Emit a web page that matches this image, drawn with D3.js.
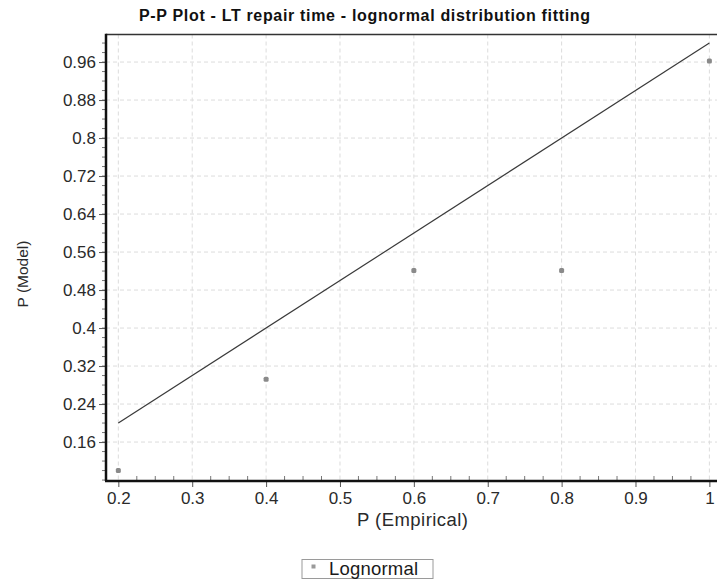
<!DOCTYPE html>
<html>
<head>
<meta charset="utf-8">
<script src="https://cdn.jsdelivr.net/npm/d3@7"></script>
<style>
  html, body { margin: 0; padding: 0; background: #ffffff; }
  svg { display: block; }
  text { font-family: "Liberation Sans", Arial, sans-serif; }
</style>
</head>
<body>
<svg id="chart" width="717" height="580"></svg>
<script>
// ---- data ----
const title = "P-P Plot - LT repair time - lognormal distribution fitting";
const xLabel = "P (Empirical)";
const yLabel = "P (Model)";
const seriesName = "Lognormal";
const empirical = [0.2, 0.4, 0.6, 0.8, 1.0];
const model = [0.100, 0.292, 0.521, 0.521, 0.962];
const refLineX = [0.2, 1.0];
const refLineY = [0.2, 1.0];
const xTicks = [0.2, 0.3, 0.4, 0.5, 0.6, 0.7, 0.8, 0.9, 1.0];
const xTickLabels = ["0.2", "0.3", "0.4", "0.5", "0.6", "0.7", "0.8", "0.9", "1"];
const yTicks = [0.16, 0.24, 0.32, 0.40, 0.48, 0.56, 0.64, 0.72, 0.80, 0.88, 0.96];
const yTickLabels = ["0.16", "0.24", "0.32", "0.4", "0.48", "0.56", "0.64", "0.72", "0.8", "0.88", "0.96"];
const xDomain = [0.1833, 1.016];
const yDomain = [0.078, 1.018];

// ---- layout ----
const L = 106, T = 34.5, B = 481, R = 721.2;
const svg = d3.select("#chart");
const x = d3.scaleLinear().domain(xDomain).range([L, R]);
const y = d3.scaleLinear().domain(yDomain).range([B, T]);

// plot background
svg.append("rect").attr("x", L).attr("y", T).attr("width", R - L).attr("height", B - T).attr("fill", "#ffffff");

// grid lines
const grid = svg.append("g");
grid.selectAll("line.gx").data(xTicks).enter().append("line")
  .attr("x1", d => x(d)).attr("x2", d => x(d)).attr("y1", T).attr("y2", B)
  .attr("stroke", "#dcdcdc").attr("stroke-width", 1).attr("stroke-dasharray", "4,3");
grid.selectAll("line.gy").data(yTicks).enter().append("line")
  .attr("x1", L).attr("x2", R).attr("y1", d => y(d)).attr("y2", d => y(d))
  .attr("stroke", "#dcdcdc").attr("stroke-width", 1).attr("stroke-dasharray", "4,3");

// minor ticks
const xMinor = d3.range(0, 33).map(i => 0.2 + i * 0.025).filter(v => v <= 1.016 && Math.round(v * 1000) % 100 !== 0);
const yMinor = d3.range(0, 48).map(i => 0.08 + i * 0.02).filter(v => v <= 1.018 && v >= 0.078);
svg.append("g").selectAll("line").data(xMinor).enter().append("line")
  .attr("x1", d => x(d)).attr("x2", d => x(d)).attr("y1", B - 5).attr("y2", B)
  .attr("stroke", "#777").attr("stroke-width", 1);
svg.append("g").selectAll("line").data(yMinor).enter().append("line")
  .attr("x1", L - 4).attr("x2", L).attr("y1", d => y(d)).attr("y2", d => y(d))
  .attr("stroke", "#777").attr("stroke-width", 1);

// axes
const xAxis = d3.axisBottom(x).tickValues(xTicks).tickFormat((d, i) => xTickLabels[i]).tickSize(6).tickPadding(5);
const yAxis = d3.axisLeft(y).tickValues(yTicks).tickFormat((d, i) => yTickLabels[i]).tickSize(7).tickPadding(3);
const gx = svg.append("g").attr("transform", `translate(0,${B})`).call(xAxis);
const gy = svg.append("g").attr("transform", `translate(${L},0)`).call(yAxis);
[gx, gy].forEach(g => {
  g.select(".domain").remove();
  g.selectAll(".tick line").attr("stroke", "#555").attr("stroke-width", 1);
  g.selectAll(".tick text").attr("fill", "#2a2a2a")
    .style("font-family", '"Liberation Sans", Arial, sans-serif').style("font-size", "17px");
});
gx.selectAll(".tick text").attr("dy", "0.71em");

// axis lines / border
svg.append("line").attr("x1", L).attr("x2", 717).attr("y1", T).attr("y2", T)
  .attr("stroke", "#333").attr("stroke-width", 1.5);
svg.append("line").attr("x1", L - 1).attr("x2", 717).attr("y1", B).attr("y2", B)
  .attr("stroke", "#111").attr("stroke-width", 2.5);
svg.append("line").attr("x1", L).attr("x2", L).attr("y1", T - 0.75).attr("y2", B)
  .attr("stroke", "#111").attr("stroke-width", 2.5);

// reference line
const line = d3.line().x(d => x(d[0])).y(d => y(d[1]));
svg.append("path").datum(refLineX.map((v, i) => [v, refLineY[i]]))
  .attr("d", line).attr("fill", "none").attr("stroke", "#3a3a3a").attr("stroke-width", 1.2);

// points
svg.append("g").selectAll("rect").data(empirical).enter().append("rect")
  .attr("x", (d) => x(d) - 2.5).attr("y", (d, i) => y(model[i]) - 2.5)
  .attr("width", 5).attr("height", 5).attr("rx", 1.5)
  .attr("fill", "#8a8a8a");

// title
svg.append("text").attr("x", 364.5).attr("y", 21).attr("text-anchor", "middle")
  .style("font-size", "16px").style("font-weight", "bold").attr("fill", "#111")
  .attr("textLength", 451).attr("lengthAdjust", "spacing")
  .text(title);

// axis labels
svg.append("text").attr("x", 412.5).attr("y", 526).attr("text-anchor", "middle")
  .style("font-size", "18.5px").attr("fill", "#2a2a2a")
  .attr("textLength", 111).attr("lengthAdjust", "spacing")
  .text(xLabel);
svg.append("text").attr("transform", "translate(28,274) rotate(-90)").attr("text-anchor", "middle")
  .style("font-size", "15.5px").attr("fill", "#2a2a2a")
  .text(yLabel);

// legend
const lg = svg.append("g");
lg.append("rect").attr("x", 302).attr("y", 559.5).attr("width", 131).attr("height", 19)
  .attr("fill", "#fff").attr("stroke", "#9a9a9a").attr("stroke-width", 1);
lg.append("rect").attr("x", 311.5).attr("y", 564.5).attr("width", 4).attr("height", 4).attr("fill", "#9a9a9a");
lg.append("text").attr("x", 329).attr("y", 575).style("font-size", "18.5px").attr("fill", "#1a1a1a")
  .attr("textLength", 89).attr("lengthAdjust", "spacing")
  .text(seriesName);
</script>
</body>
</html>
